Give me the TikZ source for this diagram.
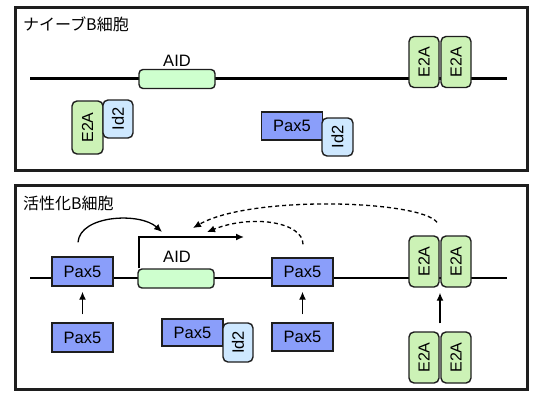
\documentclass[tikz,border=0pt]{standalone}
\usepackage{fontspec}
\setmainfont{Liberation Sans}
\newfontfamily\jp{Noto Sans CJK JP}
\usetikzlibrary{arrows.meta,calc}
\definecolor{paxblue}{RGB}{138,158,250}
\definecolor{e2agreen}{RGB}{204,242,182}
\definecolor{aidgreen}{RGB}{206,255,206}
\definecolor{idblue}{RGB}{206,232,255}
\definecolor{edge}{RGB}{30,30,30}
\begin{document}
\begin{tikzpicture}[x=1pt,y=-1pt,
  frame/.style={draw=edge,line width=3pt},
  dnathick/.style={draw=black,line width=3pt},
  dnathin/.style={draw=black,line width=2pt},
  prot/.style={draw=edge,line width=1.4pt,inner sep=0pt,font=\fontsize{16.5}{16.5}\selectfont},
  pax/.style={prot,fill=paxblue,minimum width=61pt,minimum height=28pt},
  e2a/.style={prot,fill=e2agreen,rounded corners=5pt,minimum width=51pt,minimum height=30pt,rotate=90,font=\fontsize{16}{16}\selectfont},
  idtwo/.style={prot,fill=idblue,rounded corners=5pt,minimum width=38pt,minimum height=30pt,rotate=90},
  aid/.style={prot,fill=aidgreen,rounded corners=4pt,minimum width=76pt,minimum height=19pt},
  lbl/.style={inner sep=0pt,font=\fontsize{16.5}{16.5}\selectfont},
  ttl/.style={inner sep=0pt,anchor=west,font=\jp\fontsize{16}{16}\selectfont},
  tip/.style={-{Latex[length=8pt,width=7pt]}},
  upar/.style={tip,line width=1.3pt,shorten >=5pt,shorten <=8pt},
  curve/.style={tip,line width=1.3pt},
  dcurve/.style={tip,line width=1.3pt,dash pattern=on 4pt off 3pt}
]
\useasboundingbox (0,0) rectangle (533,392);
% ---------- top panel ----------
\draw[frame] (15.5,7.5) rectangle (527,170);
\node[ttl] (t1) at (23,24) {ナイーブB細胞};
\coordinate (l1a) at (30,78);
\coordinate (l1b) at (507,78);
\draw[dnathick] (l1a) -- (l1b);
\node[aid] (aid1) at (177,79) {};
\node[lbl] (aidl1) at (177,61) {AID};
\node[e2a] (e1a) at (424,62) {E2A};
\node[e2a] (e1b) at (456,62) {E2A};
\node[e2a,minimum width=53pt,minimum height=31pt] (e2L) at (87.5,127.5) {E2A};
\node[idtwo] (idL) at (118,119) {Id2};
\node[pax] (p1) at (292,126) {Pax5};
\node[idtwo,minimum height=31pt] (id1) at (337.5,137) {Id2};
% ---------- bottom panel ----------
\draw[frame] (15.5,185.5) rectangle (527,389.5);
\node[ttl] (t2) at (23,203) {活性化B細胞};
\coordinate (l2a) at (30,278);
\coordinate (l2b) at (507,278);
\draw[dnathin] (l2a) -- (l2b);
\node[pax,minimum height=29pt] (pL) at (82.5,271.5) {Pax5};
\node[aid] (aid2) at (176,278.5) {};
\node[lbl] (aidl2) at (177,257) {AID};
\node[pax] (pM) at (302.5,272) {Pax5};
\node[e2a] (e3a) at (424,261.5) {E2A};
\node[e2a] (e3b) at (456,261.5) {E2A};
% promoter arrow
\coordinate (prom) at (139,237);
\coordinate (promend) at (244,237);
\draw[tip,line width=1.5pt] (aid2.north west -| prom) -- (prom) -- (promend);
% free binders
\node[pax,minimum height=29pt] (pB1) at (82.5,337.5) {Pax5};
\node[pax,minimum height=27pt] (pB2) at (192.5,332.5) {Pax5};
\node[idtwo,minimum width=39pt] (idB) at (238,342.5) {Id2};
\node[pax] (pB3) at (302.5,337) {Pax5};
\node[e2a] (e4a) at (424,357.5) {E2A};
\node[e2a] (e4b) at (456,357.5) {E2A};
% binding arrows
\draw[upar] (pB1) -- (pL);
\draw[upar] (pB3) -- (pM);
\draw[tip,line width=1.3pt] ($(e4a.south east)!.5!(e4b.north east)+(0,-8)$) -- ($(e3a.south west)!.5!(e3b.north west)+(0,5)$);
% regulatory curves
\coordinate (c1s) at ($(pL.north)+(-4.5,-14)$);
\coordinate (c1e) at (162,232);
\draw[curve] (c1s) .. controls (80,215) and (140,212) .. (c1e);
\coordinate (c2s) at ($(pM.north)+(0.5,-13)$);
\coordinate (c2e) at (207,232);
\draw[dcurve] (c2s) .. controls (303,222) and (252,214) .. (c2e);
\coordinate (c3s) at ($(e3a.south east)!.5!(e3b.north east)+(-3,-13)$);
\coordinate (c3e) at (193,228);
\draw[dcurve] (c3s) .. controls (420,200) and (250,195) .. (c3e);
\end{tikzpicture}
\end{document}
